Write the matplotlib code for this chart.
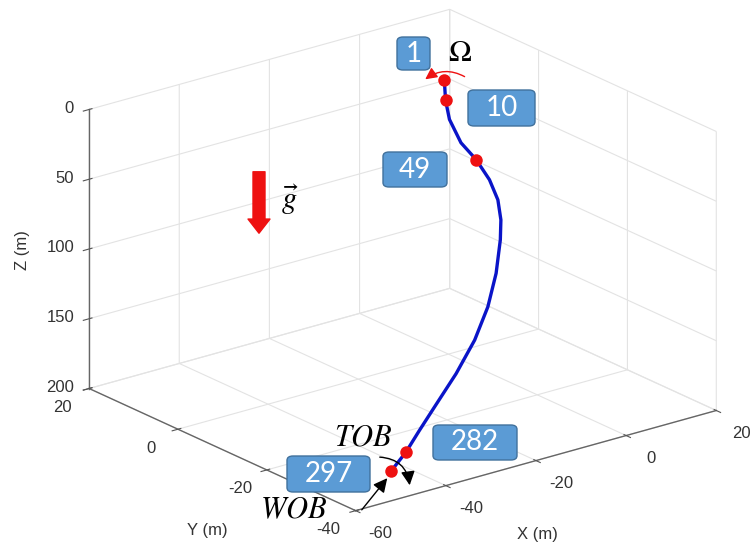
import matplotlib
matplotlib.use('Agg')
import matplotlib.pyplot as plt
from matplotlib.patches import FancyBboxPatch, FancyArrowPatch
from matplotlib.ticker import NullFormatter
from mpl_toolkits.mplot3d import proj3d

plt.rcParams['axes.unicode_minus'] = False
plt.rcParams['font.family'] = ['Liberation Sans', 'DejaVu Sans']
plt.rcParams['mathtext.fontset'] = 'stix'

# ---- data ----
curve_x = [-1.9, -3.5, -4.6, -5.0, -4.4, -4.3, -4.9, -6.2, -8.0, -11.5, -15.5,
           -20.2, -25.7, -31.6, -35.6, -39.4, -43.0]
curve_y = [-1.0, -2.9, -4.9, -7.9, -10.7, -13.6, -16.1, -18.1, -19.8, -22.4, -24.6,
           -26.4, -27.8, -28.9, -29.6, -30.4, -30.8]
curve_z = [0, 10.6, 20.5, 32.5, 41.0, 51.3, 61.5, 71.8, 82.0, 99.1, 116.3,
           133.3, 150.4, 167.5, 179.5, 190.6, 200]
node_idx = [0, 1, 4, 15, 16]
node_labels = ['1', '10', '49', '282', '297']
x_ticks = [-60, -40, -20, 0, 20]
y_ticks = [-40, -20, 0, 20]
z_ticks = [0, 50, 100, 150, 200]

W, H = 755, 546
fig = plt.figure(figsize=(W / 100, H / 100), dpi=100)
fig.patch.set_facecolor('white')

def fx(px):
    return px / W

def fy(py):
    return 1 - py / H

ax = fig.add_axes([0.0236, 0.0103, 1.0, 1.0], projection='3d')
ax.set_proj_type('ortho')
ax.view_init(elev=20.9, azim=-127.9)
ax.set_box_aspect((456, 433, 298), zoom=1.24)
ax.set_xlim(-60, 20)
ax.set_ylim(-40, 20)
ax.set_zlim(200, 0)
ax.set_xticks(x_ticks)
ax.set_yticks(y_ticks)
ax.set_zticks(z_ticks)

for axis in (ax.xaxis, ax.yaxis, ax.zaxis):
    axis.set_major_formatter(NullFormatter())
    axis.set_tick_params(labelbottom=False, labeltop=False)
    axis.label.set_visible(False)
    axis.set_pane_color((1, 1, 1, 0))
    axis._axinfo['grid']['color'] = '#e3e3e3'
    axis._axinfo['grid']['linewidth'] = 0.8
    axis.line.set_color('#666666')
    axis.line.set_linewidth(1.0)
    axis.pane.set_edgecolor('#e3e3e3')
ax.tick_params(colors='#555555')

ax.plot(curve_x, curve_y, curve_z, color='#0a14c8', linewidth=2.4, zorder=5)
ax.plot([curve_x[i] for i in node_idx], [curve_y[i] for i in node_idx],
        [curve_z[i] for i in node_idx], 'o', color='#ee1111', markersize=9,
        markeredgewidth=0, zorder=6)

# ---- tick labels placed at the projected tick positions ----
fig.canvas.draw()
M = ax.get_proj()

def to_px(x, y, z):
    x2, y2, _ = proj3d.proj_transform(x, y, z, M)
    return ax.transData.transform((x2, y2))

tick_color = '#333333'
for v in x_ticks:
    px, py = to_px(v, -40, 200)
    fig.text((px + 25) / W, (py - 23) / H, str(v), fontsize=12, color=tick_color,
             ha='center', va='center')
for v in y_ticks:
    px, py = to_px(-60, v, 200)
    fig.text((px - 27) / W, (py - 19) / H, str(v), fontsize=12, color=tick_color,
             ha='center', va='center')
for v in z_ticks:
    px, py = to_px(-60, 20, v)
    fig.text((px - 15) / W, (py + 1) / H, str(v), fontsize=12, color=tick_color,
             ha='right', va='center')

fig.text(fx(537), fy(535), 'X (m)', fontsize=12, color=tick_color, ha='center', va='center')
fig.text(fx(207), fy(530), 'Y (m)', fontsize=12, color=tick_color, ha='center', va='center')
fig.text(fx(22), fy(250), 'Z (m)', fontsize=12, color=tick_color, ha='center', va='center',
         rotation=90)

# ---- annotation overlays (figure pixel positions) ----
boxes = [(397, 37, 33, 33), (468, 90, 67, 36), (383, 152, 64, 35),
         (433, 425, 84, 35), (287, 456, 83, 36)]
for (bx, by, bw, bh), lab in zip(boxes, node_labels):
    p = FancyBboxPatch((fx(bx), fy(by + bh)), bw / W, bh / H,
                       boxstyle='round,pad=0,rounding_size=0.008',
                       transform=fig.transFigure, facecolor='#5b9bd5',
                       edgecolor='#41719c', linewidth=1.0, zorder=10)
    fig.patches.append(p)
    fig.text(fx(bx + bw / 2), fy(by + bh / 2), lab, ha='center', va='center',
             color='white', fontsize=20, family='Lato', zorder=11)

fig.text(fx(460), fy(53), r'$\Omega$', fontsize=22, ha='center', va='center')
fig.text(fx(290), fy(200), r'$\vec{g}$', fontsize=22, ha='center', va='center')
fig.text(fx(363), fy(437), r'$TOB$', fontsize=22, ha='center', va='center')
fig.text(fx(294), fy(510), r'$WOB$', fontsize=22, ha='center', va='center')

# gravity arrow
g = FancyArrowPatch((fx(259), fy(169)), (fx(259), fy(236)),
                    transform=fig.transFigure,
                    arrowstyle='simple,head_width=1.32,head_length=0.85,tail_width=0.72',
                    mutation_scale=12, color='#ee1111', zorder=10)
fig.patches.append(g)
# rotation arrow (Omega)
r = FancyArrowPatch((fx(467), fy(78)), (fx(423), fy(81)),
                    transform=fig.transFigure, connectionstyle='arc3,rad=0.35',
                    arrowstyle='-|>,head_width=0.25,head_length=0.5',
                    mutation_scale=14, color='#ee1111', linewidth=1.0, zorder=10)
fig.patches.append(r)
# TOB curved arrow
t = FancyArrowPatch((fx(377), fy(457)), (fx(410), fy(488)),
                    transform=fig.transFigure, connectionstyle='arc3,rad=-0.45',
                    arrowstyle='-|>,head_width=0.3,head_length=0.6',
                    mutation_scale=14, color='black', linewidth=1.0, zorder=10)
fig.patches.append(t)
# WOB arrow
w = FancyArrowPatch((fx(360), fy(512)), (fx(389), fy(476)),
                    transform=fig.transFigure,
                    arrowstyle='-|>,head_width=0.3,head_length=0.6',
                    mutation_scale=14, color='black', linewidth=1.0, zorder=10)
fig.patches.append(w)

fig.savefig('out.png', dpi=100)
